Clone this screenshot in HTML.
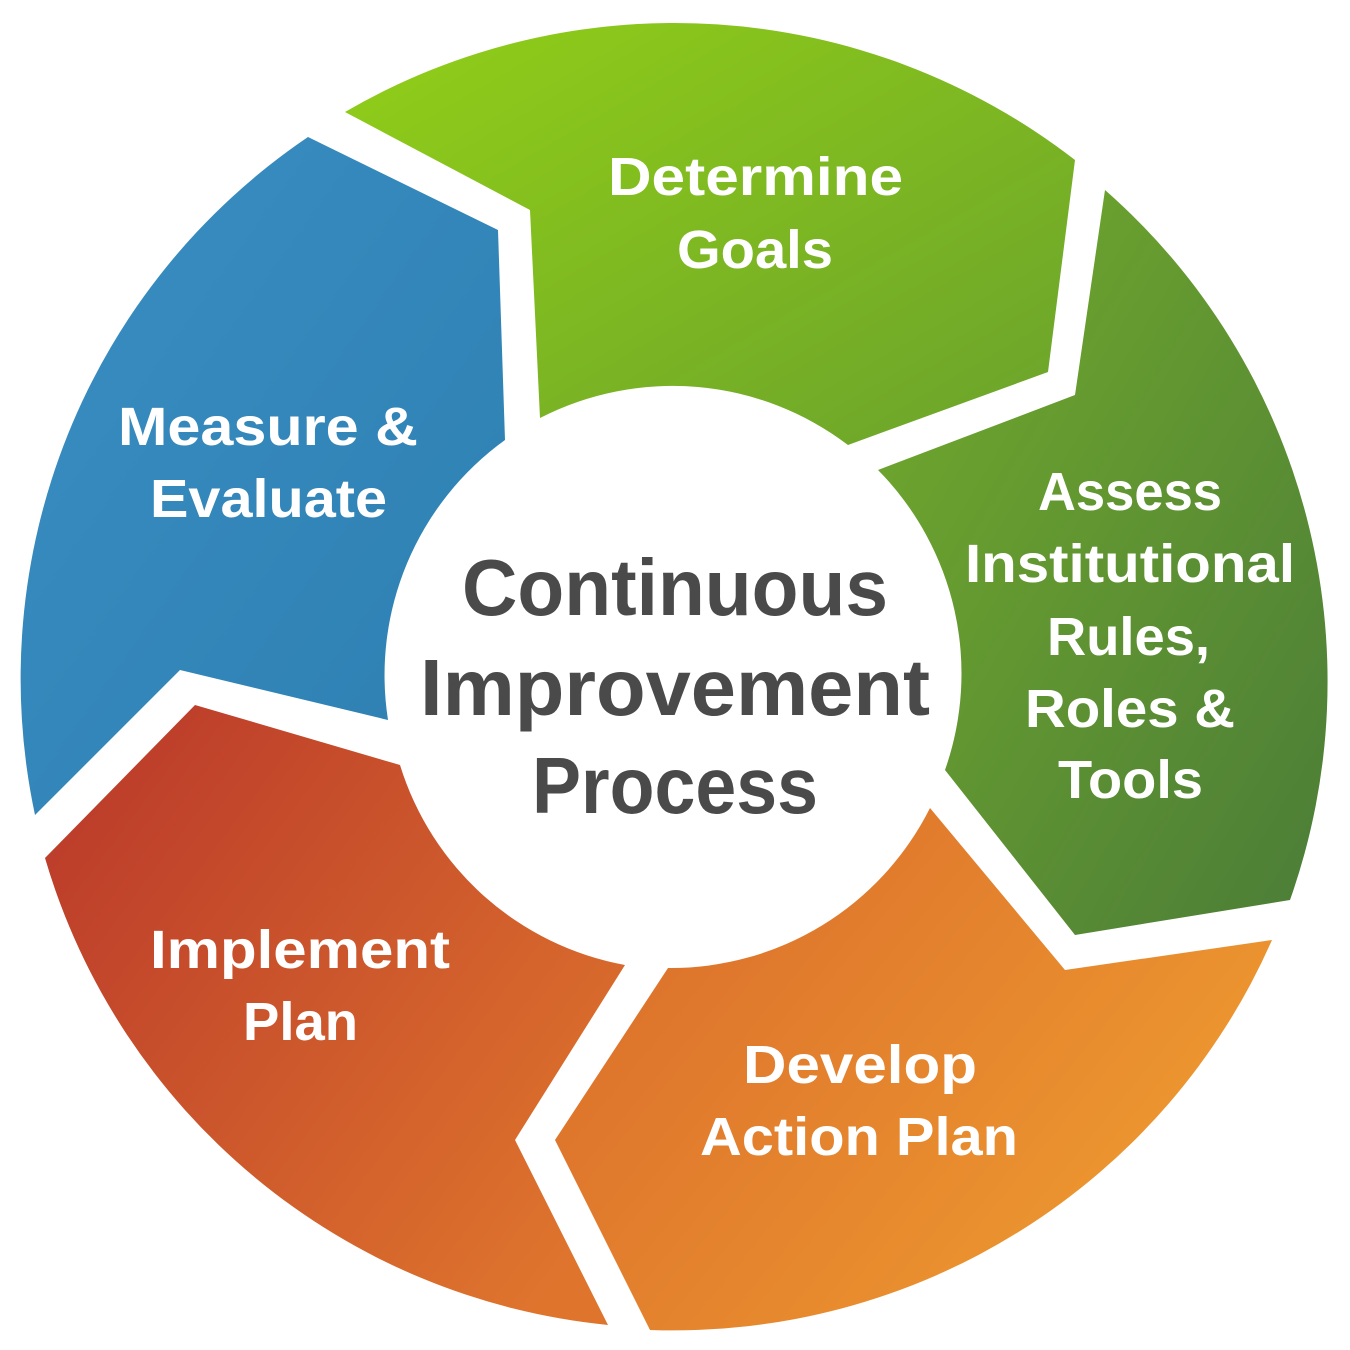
<!DOCTYPE html>
<html><head><meta charset="utf-8"><style>html,body{margin:0;padding:0;background:#fff}svg{display:block}</style></head>
<body>
<svg width="1350" height="1350" viewBox="0 0 1350 1350" xmlns="http://www.w3.org/2000/svg">
<defs>
<linearGradient id="gG" x1="0" y1="0" x2="1" y2="1"><stop offset="0" stop-color="#92cf17"/><stop offset="1" stop-color="#6aa22c"/></linearGradient>
<linearGradient id="gD" x1="0" y1="0" x2="1" y2="1"><stop offset="0" stop-color="#74ac2b"/><stop offset="1" stop-color="#4b7c38"/></linearGradient>
<linearGradient id="gO" x1="0" y1="0" x2="1" y2="0.6"><stop offset="0" stop-color="#d8682b"/><stop offset="1" stop-color="#ee9a30"/></linearGradient>
<linearGradient id="gR" x1="0" y1="0" x2="1" y2="0.8"><stop offset="0" stop-color="#b8362a"/><stop offset="1" stop-color="#df752d"/></linearGradient>
<linearGradient id="gB" x1="0" y1="0" x2="1" y2="1"><stop offset="0" stop-color="#3a8ec2"/><stop offset="1" stop-color="#2d7fb1"/></linearGradient>
</defs>
<path d="M345,112 A654,654 0 0 1 1075,160 L1048,372 L848,445 A290,290 0 0 0 540,418 L530,210 Z" fill="url(#gG)"/>
<path d="M1105,190 A654,654 0 0 1 1290,900 L1075,935 L945,770 A290,290 0 0 0 878,470 L1075,395 Z" fill="url(#gD)"/>
<path d="M1272,940 A654,654 0 0 1 650,1330 L555,1140 L668,968 A290,290 0 0 0 930,808 L1065,970 Z" fill="url(#gO)"/>
<path d="M45,858 A654,654 0 0 0 608,1325 L515,1140 L625,965 A290,290 0 0 1 400,765 L195,705 Z" fill="url(#gR)"/>
<path d="M308,137 A654,654 0 0 0 35,815 L180,670 L388,720 A290,290 0 0 1 505,440 L498,230 Z" fill="url(#gB)"/>
<g font-family="Liberation Sans, sans-serif" font-weight="bold" fill="#fff" font-size="54" lengthAdjust="spacingAndGlyphs">
<text x="608" y="195" textLength="295" lengthAdjust="spacingAndGlyphs">Determine</text>
<text x="677" y="268" textLength="156" lengthAdjust="spacingAndGlyphs">Goals</text>
<text x="118" y="445" textLength="300" lengthAdjust="spacingAndGlyphs">Measure &amp;</text>
<text x="150" y="517" textLength="237" lengthAdjust="spacingAndGlyphs">Evaluate</text>
<text x="1038" y="510" textLength="184" lengthAdjust="spacingAndGlyphs">Assess</text>
<text x="965" y="582" textLength="330" lengthAdjust="spacingAndGlyphs">Institutional</text>
<text x="1047" y="655" textLength="163" lengthAdjust="spacingAndGlyphs">Rules,</text>
<text x="1025" y="727" textLength="210" lengthAdjust="spacingAndGlyphs">Roles &amp;</text>
<text x="1058" y="798" textLength="145" lengthAdjust="spacingAndGlyphs">Tools</text>
<text x="150" y="968" textLength="300" lengthAdjust="spacingAndGlyphs">Implement</text>
<text x="243" y="1040" textLength="115" lengthAdjust="spacingAndGlyphs">Plan</text>
<text x="743" y="1083" textLength="234" lengthAdjust="spacingAndGlyphs">Develop</text>
<text x="700" y="1155" textLength="318" lengthAdjust="spacingAndGlyphs">Action Plan</text>
</g>
<g font-family="Liberation Sans, sans-serif" font-weight="bold" fill="#4a4a4a" font-size="80">
<text x="462" y="615" textLength="426" lengthAdjust="spacingAndGlyphs">Continuous</text>
<text x="420" y="715" textLength="510" lengthAdjust="spacingAndGlyphs">Improvement</text>
<text x="532" y="813" textLength="286" lengthAdjust="spacingAndGlyphs">Process</text>
</g>
</svg>
</body></html>
